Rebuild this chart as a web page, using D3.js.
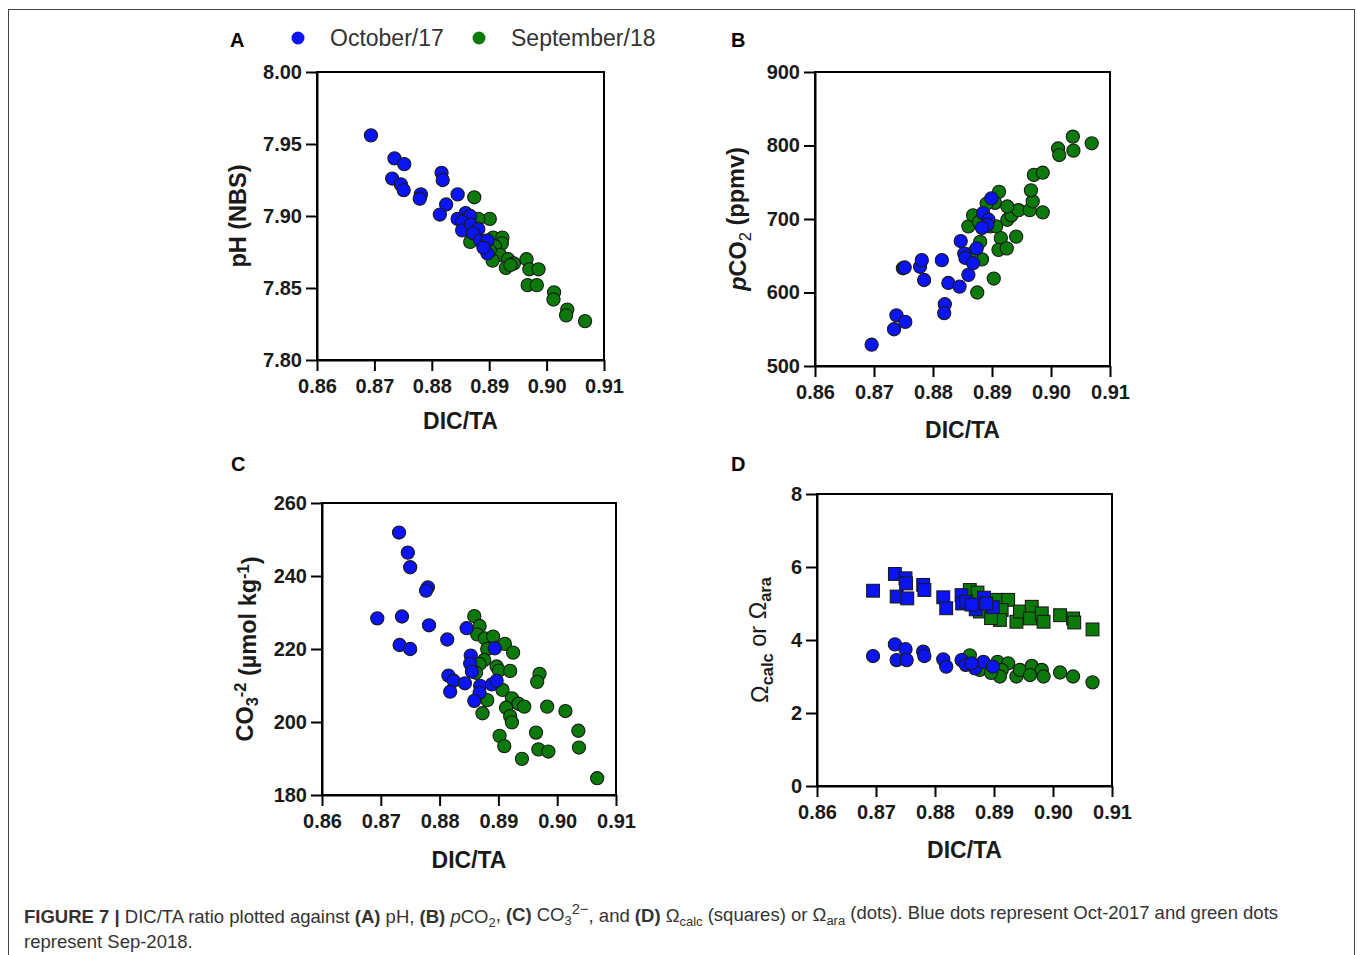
<!DOCTYPE html>
<html>
<head>
<meta charset="utf-8">
<script src="https://cdn.jsdelivr.net/npm/d3@7"></script>
<style>
  body { margin: 0; background: #fff; }
  svg { display: block; }
  .tick text { font-family: "Liberation Sans", Arial, sans-serif; font-weight: bold; font-size: 20px; fill: #1a1a1a; }
  .tick line, .domain { stroke: #000; stroke-width: 2px; }
</style>
</head>
<body>
<div id="chart"></div>
<script>
// DIC/TA vs pH (NBS)
const phOct = [[0.8694,7.956],[0.8735,7.940],[0.8752,7.936],[0.8731,7.926],[0.8746,7.922],[0.8751,7.918],[0.8781,7.915],[0.8779,7.912],[0.8817,7.930],[0.8819,7.925],[0.8845,7.915],[0.8825,7.908],[0.8814,7.901],[0.8859,7.902],[0.8867,7.900],[0.8845,7.898],[0.8853,7.896],[0.8853,7.890],[0.8868,7.894],[0.8881,7.891],[0.8872,7.888],[0.8884,7.883],[0.8897,7.883],[0.8897,7.874],[0.8890,7.878]];
const phSep = [[0.8874,7.913],[0.8901,7.898],[0.8881,7.898],[0.8867,7.882],[0.8907,7.885],[0.8923,7.885],[0.8922,7.881],[0.8910,7.879],[0.8919,7.873],[0.8906,7.869],[0.8933,7.870],[0.8929,7.864],[0.8943,7.867],[0.8965,7.870],[0.8970,7.863],[0.8986,7.863],[0.8967,7.852],[0.8983,7.852],[0.9013,7.847],[0.9012,7.842],[0.9036,7.835],[0.9034,7.831],[0.9067,7.827],[0.8901,7.876],[0.8937,7.866]];

// DIC/TA vs pCO2 (ppmv)
const pco2Oct = [[0.8696,529],[0.8734,550],[0.8738,569],[0.8753,560],[0.8749,633],[0.8752,634],[0.8778,635],[0.8781,644],[0.8785,617],[0.8815,644],[0.8820,584],[0.8819,572],[0.8826,613],[0.8845,608],[0.8860,624],[0.8847,670],[0.8853,653],[0.8855,647],[0.8868,640],[0.8874,660],[0.8885,708],[0.8894,699],[0.8899,728],[0.8892,692],[0.8883,688]];
const pco2Sep = [[0.8875,600],[0.8903,619],[0.8868,647],[0.8883,645],[0.8866,653],[0.8880,669],[0.8860,690],[0.8868,705],[0.8878,696],[0.8897,690],[0.8907,690],[0.8915,674],[0.8911,658],[0.8925,660],[0.8941,676],[0.8926,699],[0.8933,705],[0.8945,712],[0.8912,737],[0.8905,722],[0.8891,721],[0.8926,717],[0.8964,712],[0.8969,724],[0.8966,739],[0.8986,709],[0.8971,760],[0.8986,763],[0.9012,796],[0.9014,787],[0.9037,812],[0.9038,793],[0.9069,803]];

// DIC/TA vs CO3 2- (umol/kg)
const co3Oct = [[0.8731,251.9],[0.8746,246.4],[0.8750,242.4],[0.8780,236.9],[0.8777,236.0],[0.8694,228.4],[0.8736,228.9],[0.8782,226.5],[0.8732,221.1],[0.8750,220.0],[0.8813,222.6],[0.8846,225.7],[0.8853,218.2],[0.8852,216.0],[0.8855,213.8],[0.8815,212.7],[0.8824,211.3],[0.8818,208.3],[0.8843,210.6],[0.8869,209.9],[0.8868,208.0],[0.8859,205.8],[0.8889,210.3],[0.8897,211.3],[0.8894,220.2]];
const co3Sep = [[0.8859,229.0],[0.8868,226.3],[0.8864,224.0],[0.8877,222.9],[0.8891,223.4],[0.8881,220.0],[0.8911,221.4],[0.8925,219.0],[0.8876,217.0],[0.8868,215.9],[0.8862,213.5],[0.8897,215.2],[0.8901,214.1],[0.8920,214.0],[0.8907,208.8],[0.8923,206.5],[0.8934,205.0],[0.8944,204.2],[0.8913,203.9],[0.8920,201.6],[0.8923,199.9],[0.8881,206.0],[0.8873,202.4],[0.8970,213.2],[0.8966,211.0],[0.8983,204.2],[0.9014,203.0],[0.8964,197.1],[0.8902,196.2],[0.8910,193.4],[0.8968,192.5],[0.8985,191.9],[0.8940,189.9],[0.9036,197.6],[0.9037,193.0],[0.9068,184.6]];

// DIC/TA vs Omega calcite (squares) and aragonite (dots)
const calcOct = [[0.8695,5.35],[0.8732,5.81],[0.8750,5.69],[0.8751,5.55],[0.8735,5.19],[0.8753,5.14],[0.8780,5.51],[0.8782,5.37],[0.8814,5.17],[0.8819,4.87],[0.8845,5.23],[0.8846,5.00],[0.8853,5.05],[0.8869,4.84],[0.8883,5.16],[0.8898,4.90],[0.8887,5.00],[0.8862,4.97]];
const calcSep = [[0.8859,5.37],[0.8872,5.30],[0.8876,4.78],[0.8904,5.10],[0.8924,5.10],[0.8913,4.82],[0.8910,4.55],[0.8938,4.50],[0.8944,4.78],[0.8964,4.91],[0.8961,4.59],[0.8981,4.73],[0.8984,4.50],[0.9012,4.68],[0.9034,4.59],[0.9036,4.48],[0.9067,4.29],[0.8895,4.60]];
const araOct = [[0.8695,3.56],[0.8732,3.88],[0.8750,3.75],[0.8735,3.45],[0.8752,3.45],[0.8780,3.68],[0.8782,3.56],[0.8814,3.47],[0.8819,3.27],[0.8845,3.45],[0.8852,3.32],[0.8868,3.22],[0.8882,3.40],[0.8898,3.27],[0.8862,3.36]];
const araSep = [[0.8859,3.58],[0.8876,3.18],[0.8906,3.40],[0.8924,3.36],[0.8913,3.18],[0.8910,3.00],[0.8938,3.00],[0.8944,3.18],[0.8964,3.29],[0.8961,3.04],[0.8981,3.18],[0.8984,3.00],[0.9012,3.11],[0.9034,3.00],[0.9067,2.84],[0.8895,3.10]];

const xTicks = [0.86, 0.87, 0.88, 0.89, 0.90, 0.91];
const phTicks = [7.80, 7.85, 7.90, 7.95, 8.00];
const pco2Ticks = [500, 600, 700, 800, 900];
const co3Ticks = [180, 200, 220, 240, 260];
const omegaTicks = [0, 2, 4, 6, 8];

const BLUE = "#0a14f5", GREEN = "#0b7a0b";
const FONT = "'Liberation Sans', Arial, sans-serif";

const svg = d3.select("#chart").append("svg")
  .attr("width", 1357).attr("height", 955);

// figure border
svg.append("rect")
  .attr("x", 8.5).attr("y", 9.5).attr("width", 1346).attr("height", 1000)
  .attr("fill", "none").attr("stroke", "#444").attr("stroke-width", 1);

// text helper: segments with optional bold / italic / sub / sup
function richText(sel, segs) {
  let shift = 0;
  segs.forEach(s => {
    const target = s.sub ? 0.3 : s.sup ? -0.45 : 0;
    const ts = sel.append("tspan").text(s.t);
    if (target !== shift) ts.attr("dy", (target - shift) + "em");
    if (s.sub || s.sup) ts.attr("font-size", s.size || "70%");
    if (s.bold) ts.attr("font-weight", "bold");
    if (s.bold === false) ts.attr("font-weight", "normal");
    if (s.italic) ts.attr("font-style", "italic");
    shift = target;
  });
}

function panel(o) {
  const g = svg.append("g");
  const x = d3.scaleLinear().domain([0.86, 0.91]).range([o.left, o.right]);
  const y = d3.scaleLinear().domain(o.yDomain).range([o.bottom, o.top]);

  g.append("rect")
    .attr("x", o.left).attr("y", o.top)
    .attr("width", o.right - o.left).attr("height", o.bottom - o.top)
    .attr("fill", "none").attr("stroke", "#000").attr("stroke-width", 2);

  g.append("g")
    .attr("transform", `translate(0,${o.bottom})`)
    .call(d3.axisBottom(x).tickValues(xTicks).tickFormat(d3.format(".2f"))
      .tickSize(11).tickSizeOuter(0).tickPadding(8));

  g.append("g")
    .attr("transform", `translate(${o.left},0)`)
    .call(d3.axisLeft(y).tickValues(o.yTicks).tickFormat(o.yFormat)
      .tickSize(11).tickSizeOuter(0).tickPadding(4));

  // x title
  g.append("text")
    .attr("x", (o.left + o.right) / 2).attr("y", o.bottom + o.xTitleDy)
    .attr("text-anchor", "middle")
    .attr("font-family", FONT).attr("font-weight", "bold").attr("font-size", 23)
    .attr("fill", "#1a1a1a")
    .text("DIC/TA");

  // y title
  const yt = g.append("text")
    .attr("transform", "rotate(-90)")
    .attr("x", -(o.top + o.bottom) / 2 + (o.yTitleShift || 0)).attr("y", o.yTitleX)
    .attr("text-anchor", "middle")
    .attr("font-family", FONT).attr("font-weight", o.yTitleWeight || "bold").attr("font-size", 23.5)
    .attr("fill", "#1a1a1a");
  richText(yt, o.yTitle);

  // panel letter
  g.append("text")
    .attr("x", o.letterX).attr("y", o.letterY)
    .attr("font-family", FONT).attr("font-weight", "bold").attr("font-size", 20)
    .attr("fill", "#000")
    .text(o.letter);

  o.series.forEach(s => {
    if (s.shape === "square") {
      g.selectAll(null).data(s.data).enter().append("rect")
        .attr("x", d => x(d[0]) - 6.4).attr("y", d => y(d[1]) - 6.4)
        .attr("width", 12.8).attr("height", 12.8)
        .attr("fill", s.color).attr("stroke", "#1a1a1a").attr("stroke-width", 1.1);
    } else {
      g.selectAll(null).data(s.data).enter().append("circle")
        .attr("cx", d => x(d[0])).attr("cy", d => y(d[1])).attr("r", 6.6)
        .attr("fill", s.color).attr("stroke", "#1a1a1a").attr("stroke-width", 1.1);
    }
  });
}

panel({
  left: 317, right: 604, top: 72, bottom: 360,
  yDomain: [7.80, 8.00], yTicks: phTicks, yFormat: d3.format(".2f"),
  xTitleDy: 69, yTitleX: 246,
  yTitle: [{ t: "pH (NBS)" }],
  letter: "A", letterX: 230, letterY: 47,
  series: [{ data: phSep, color: GREEN }, { data: phOct, color: BLUE }]
});

panel({
  left: 815, right: 1110, top: 72, bottom: 366,
  yDomain: [500, 900], yTicks: pco2Ticks, yFormat: d3.format("d"),
  xTitleDy: 72, yTitleX: 746,
  yTitle: [{ t: "p", italic: true }, { t: "CO" }, { t: "2", sub: true, bold: false }, { t: " (ppmv)" }],
  letter: "B", letterX: 731, letterY: 47,
  series: [{ data: pco2Sep, color: GREEN }, { data: pco2Oct, color: BLUE }]
});

panel({
  left: 322, right: 616, top: 503, bottom: 795,
  yDomain: [180, 260], yTicks: co3Ticks, yFormat: d3.format("d"),
  xTitleDy: 73, yTitleX: 253,
  yTitle: [{ t: "CO" }, { t: "3", sub: true }, { t: "-2", sup: true }, { t: " (µmol kg" }, { t: "-1", sup: true }, { t: ")" }],
  letter: "C", letterX: 231, letterY: 471,
  series: [{ data: co3Sep, color: GREEN }, { data: co3Oct, color: BLUE }]
});

panel({
  left: 817, right: 1112, top: 494, bottom: 786,
  yDomain: [0, 8], yTicks: omegaTicks, yFormat: d3.format("d"),
  xTitleDy: 72, yTitleX: 768, yTitleWeight: "normal",
  yTitle: [{ t: "Ω" }, { t: "calc", sub: true, bold: true }, { t: " or " }, { t: "Ω" }, { t: "ara", sub: true, bold: true }],
  letter: "D", letterX: 731, letterY: 471,
  series: [
    { data: calcSep, color: GREEN, shape: "square" }, { data: calcOct, color: BLUE, shape: "square" },
    { data: araSep, color: GREEN }, { data: araOct, color: BLUE }
  ]
});

// legend
const legend = [{ label: "October/17", color: BLUE, x: 298 }, { label: "September/18", color: GREEN, x: 479 }];
const lg = svg.append("g");
lg.selectAll("circle").data(legend).enter().append("circle")
  .attr("cx", d => d.x).attr("cy", 38).attr("r", 6.5).attr("fill", d => d.color);
lg.selectAll("text").data(legend).enter().append("text")
  .attr("x", d => d.x + 32).attr("y", 46)
  .attr("font-family", FONT).attr("font-size", 23).attr("fill", "#333")
  .text(d => d.label);

// caption
const cap1 = svg.append("text").attr("x", 24).attr("y", 923)
  .attr("font-family", FONT).attr("font-size", 18.5).attr("fill", "#333");
richText(cap1, [
  { t: "FIGURE 7 |", bold: true }, { t: " DIC/TA ratio plotted against " },
  { t: "(A)", bold: true }, { t: " pH, " }, { t: "(B)", bold: true }, { t: " " },
  { t: "p", italic: true }, { t: "CO" }, { t: "2", sub: true }, { t: ", " },
  { t: "(C)", bold: true }, { t: " CO" }, { t: "3", sub: true }, { t: "2−", sup: true, size: "80%" }, { t: ", and " },
  { t: "(D)", bold: true }, { t: " Ω" }, { t: "calc", sub: true }, { t: " (squares) or Ω" }, { t: "ara", sub: true },
  { t: " (dots). Blue dots represent Oct-2017 and green dots" }
]);
svg.append("text").attr("x", 24).attr("y", 948)
  .attr("font-family", FONT).attr("font-size", 18.5).attr("fill", "#333")
  .text("represent Sep-2018.");
</script>
</body>
</html>
